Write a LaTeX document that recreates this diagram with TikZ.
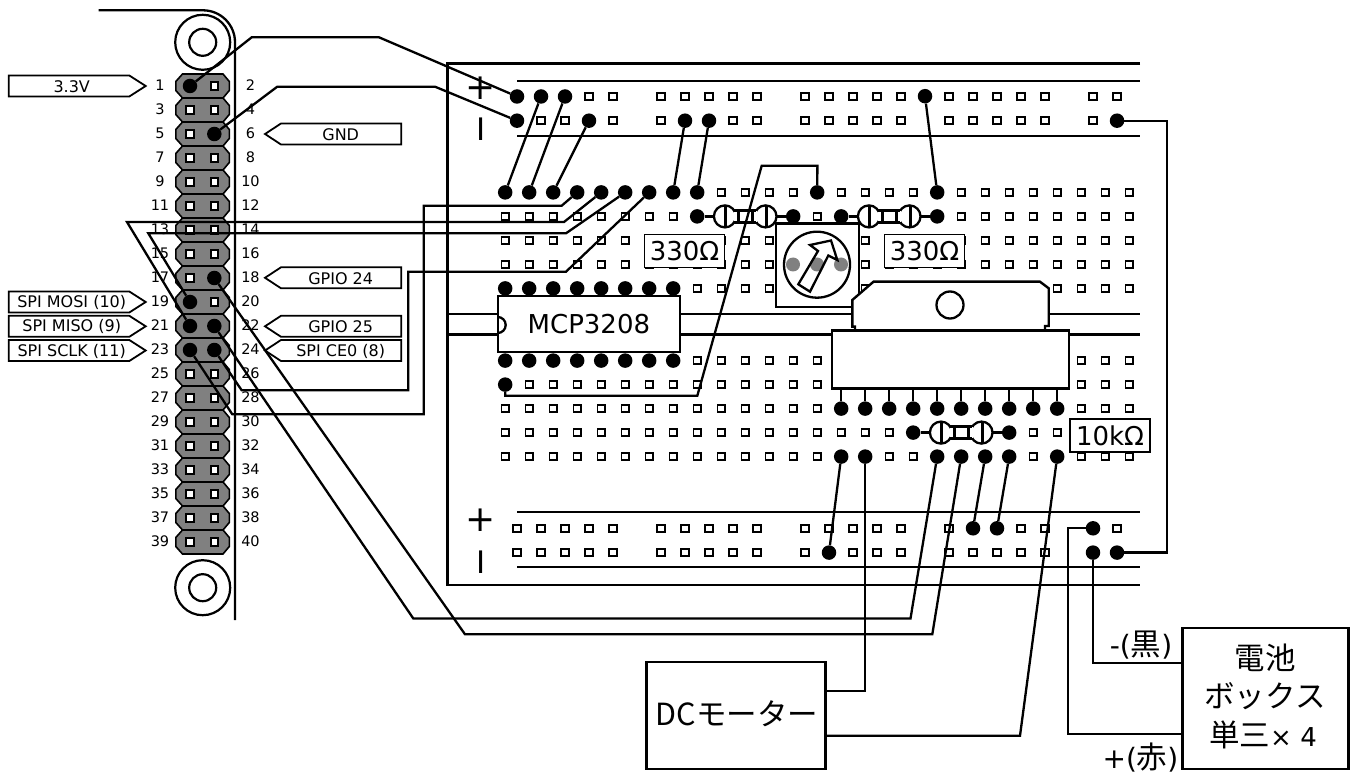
\documentclass[tikz,border=0pt]{standalone}
\usepackage{fontspec}
\setmainfont{DejaVu Sans}
\newfontfamily\jpfont{Noto Sans CJK JP}
\newcommand{\wideglyphs}[1]{{\rmfamily\fontsize{28}{30}\selectfont #1}}
\usetikzlibrary{calc}

\begin{document}
\begin{tikzpicture}[
        x=1pt, y=-1pt,
        % Define styles for consistency
        dot/.style={circle, fill=black, inner sep=0pt, minimum size=14.5pt},
        hole/.style={rectangle, draw=black, fill=white, line width=1.8pt, inner sep=0pt, minimum size=7.4pt},
        wire/.style={black, line width=2.3pt, line join=miter},
        rail/.style={black, line width=2.3pt},
        headerbody/.style={draw=black, fill=black!50, line width=1.6pt},
        chip/.style={draw=black, fill=white, line width=2.4pt},
        chipbox/.style={chip, rectangle, inner sep=0pt},
        valuebox/.style={rectangle, draw=black, fill=white, line width=1.8pt, inner sep=0pt,
            minimum width=80pt, minimum height=33pt, font=\fontsize{26}{26}\selectfont},
        tagbox/.style={draw=black, fill=white, line width=1.8pt},
        tagtext/.style={inner sep=0pt, font=\fontsize{16}{16}\selectfont},
        pinnum/.style={inner sep=0pt, font=\fontsize{14.5}{15}\selectfont},
        boxtext/.style={inner sep=0pt, font=\jpfont\fontsize{30.5}{31}\selectfont},
        resistor/.pic={
            \draw[line width=2.3pt, fill=white] (-20.3,0) circle (11pt);
            \draw[line width=2.3pt, fill=white] (20.3,0) circle (11pt);
            \fill[white] (-11.5,-5.5) rectangle (11.5,5.5);
            \draw[line width=2.3pt] (-11,-6) -- (11,-6);
            \draw[line width=2.3pt] (-11,6) -- (11,6);
            \draw[line width=3pt] (-19.5,-11) -- (-19.5,11);
            \draw[line width=3pt] (-6.5,-6) -- (-6.5,6);
            \draw[line width=3pt] (7.5,-6) -- (7.5,6);
            \draw[line width=3pt] (21.5,-11) -- (21.5,11);
        }
    ]

        \useasboundingbox (0,0) rectangle (1359,775);

        % --- Raspberry Pi edge and mounting holes ---
        \draw[rail] (98.7,10.3) -- (203,10.3) arc (90:0:32pt) -- (235,620);
        \node[circle, draw=black, line width=2.2pt, inner sep=0pt, minimum size=55pt] (hole_top) at (202.7,42.3) {};
        \node[circle, draw=black, line width=2.2pt, inner sep=0pt, minimum size=27pt] at (hole_top) {};
        \node[circle, draw=black, line width=2.2pt, inner sep=0pt, minimum size=55pt] (hole_bot) at (202.7,587.7) {};
        \node[circle, draw=black, line width=2.2pt, inner sep=0pt, minimum size=27pt] at (hole_bot) {};

        % --- GPIO header ---
        \foreach \n in {1,...,20} {
            \pgfmathtruncatemacro\oddpin{2*\n-1}
            \pgfmathtruncatemacro\evenpin{2*\n}
            \pgfmathsetmacro\rowy{86+24*(\n-1)}
            \begin{scope}[shift={(0,\rowy)}]
                \draw[headerbody] (182.5,-12) -- (223,-12) -- (229.3,-4.5) -- (229.3,4.5)
                    -- (223,12) -- (182.5,12) -- (175.8,4.5) -- (175.8,-4.5) -- cycle;
                \node[hole] (pin\oddpin) at (190,0) {};
                \node[hole] (pin\evenpin) at (214.3,0) {};
                \node[pinnum] (num\oddpin) at (160,-1) {\oddpin};
                \node[pinnum] (num\evenpin) at (250.5,-1) {\evenpin};
            \end{scope}
        }

        % --- Signal tags ---
        \foreach \tagy/\tagname in {86/3.3V, 302/SPI MOSI (10), 326.3/SPI MISO (9), 350.5/SPI SCLK (11)} {
            \begin{scope}[shift={(0,\tagy)}]
                \draw[tagbox] (8.7,-10.5) -- (129.3,-10.5) -- (145.7,0) -- (129.3,10.5) -- (8.7,10.5) -- cycle;
                \node[tagtext] at (71.7,0.5) {\tagname};
            \end{scope}
        }
        \foreach \tagy/\tagname in {134/GND, 277.8/GPIO 24, 326.3/GPIO 25, 350.5/SPI CE0 (8)} {
            \begin{scope}[shift={(0,\tagy)}]
                \draw[tagbox] (401.3,-10.5) -- (281,-10.5) -- (265,0) -- (281,10.5) -- (401.3,10.5) -- cycle;
                \node[tagtext] at (340.7,0.5) {\tagname};
            \end{scope}
        }

        % --- Breadboard outline and rails ---
        \draw[rail] (1140,63.5) -- (447.5,63.5) -- (447.5,585) -- (1140,585);
        \draw[rail] (517,80.7) -- (1140,80.7);
        \draw[rail] (517,136) -- (1140,136);
        \draw[rail] (517,512.3) -- (1140,512.3);
        \draw[rail] (517,567.3) -- (1140,567.3);
        \draw[rail] (447.5,314) -- (1140,314);
        \draw[rail] (447.5,334.5) -- (1140,334.5);

        \node[font=\fontsize{36}{36}\selectfont, inner sep=0pt] (plus_top) at (480.7,88) {+};
        \node[font=\fontsize{31}{31}\selectfont, inner sep=0pt] (minus_top) at (480.7,129.5) {I};
        \node[font=\fontsize{36}{36}\selectfont, inner sep=0pt] (plus_bot) at (480.7,520) {+};
        \node[font=\fontsize{31}{31}\selectfont, inner sep=0pt] (minus_bot) at (480.7,561.7) {I};

        % --- Breadboard holes ---
        \foreach \x in {517,541,565,589,613,661,685,709,733,757,805,829,853,877,901,949,973,997,1021,1045,1093,1117} {
            \node[hole] (ta\x) at (\x,96.5) {};
            \node[hole] (tb\x) at (\x,120.7) {};
            \node[hole] (ua\x) at (\x,528.3) {};
            \node[hole] (ub\x) at (\x,552.6) {};
        }
        \coordinate (ta925) at (925,96.2);
        \foreach \r/\rowy in {a/192.4,b/216.4,c/240.4,d/264.4,e/288.4,f/360.6,g/384.6,h/408.6,i/432.6,j/456.6} {
            \foreach \k in {0,...,26} {
                \node[hole] (\r\k) at ({505.2+24*\k},\rowy) {};
            }
        }

        % --- Connection points ---
        \foreach \n in {a0,a1,a2,a3,a4,a5,a6,a7,a8,a13,a18,b8,b12,b14,b18,
                e0,e1,e2,e3,e4,e5,e6,e7,f0,f1,f2,f3,f4,f5,f6,f7,g0,
                h14,h15,h16,h17,h18,h19,h20,h21,h22,h23,i17,i21,
                j14,j15,j18,j19,j20,j21,j23,
                ta517,ta541,ta565,ta925,tb517,tb589,tb685,tb709,tb1117,
                ua973,ua997,ua1093,ub829,ub1093,ub1117,
                pin1,pin6,pin18,pin19,pin21,pin22,pin23,pin24} {
            \node[dot] (d\n) at (\n) {};
        }

        % --- Resistors ---
        \draw[wire] (db8) -- (db12);
        \draw[wire] (db14) -- (db18);
        \draw[wire] (di17) -- (di21);
        \pic at ($(db8)!0.5!(db12)$) {resistor};
        \pic at ($(db14)!0.5!(db18)$) {resistor};
        \pic at ($(di17)!0.5!(di21)$) {resistor};
        \node[valuebox] (r330a) at (684.5,251) {330Ω};
        \node[valuebox] (r330b) at (924.5,251) {330Ω};
        \node[valuebox] (r10k) at (1110,435.5) {10kΩ};

        % --- Trimmer ---
        \node[chipbox, minimum width=83.3pt, minimum height=83.7pt] (trimmer) at (817.6,265.2) {};
        \foreach \x in {793,817,841} {
            \fill[black!50] (\x,264.5) circle (7pt);
        }
        \node[circle, draw=black, line width=2.3pt, inner sep=0pt, minimum size=66pt] (dial) at (817,264.7) {};
        \draw[black, line width=2.3pt, line join=miter] (798.3,284.3) -- (818,251) -- (810,245)
            -- (831,240.5) -- (837.3,260) -- (828.3,255.5) -- (810,291.7) -- cycle;

        % --- MCP3208 ---
        \node[chipbox, minimum width=182.3pt, minimum height=55.7pt, font=\fontsize{26}{26}\selectfont] (adc) at (588.9,323.9) {MCP3208};
        \draw[black, line width=2.3pt] (497.7,317) arc (90:-90:8pt);

        % --- Motor driver ---
        \draw[chip, line join=miter] (855,331) -- (855,326.7) -- (852.3,326.7) -- (852.3,300) -- (873.5,281.7)
            -- (1040,281.7) -- (1048.7,288.3) -- (1048.7,326) -- (1045,326) -- (1045,331) -- cycle;
        \node[circle, draw=black, line width=2.3pt, inner sep=0pt, minimum size=27pt] (tab_hole) at (950,305) {};
        \node[chipbox, minimum width=237.3pt, minimum height=57.6pt] (driver) at (950.6,359.5) {};
        \foreach \k in {14,...,23} {
            \draw[wire] (dh\k) -- (dh\k |- driver.south);
        }

        % --- Power boxes ---
        \node[chipbox, minimum width=179pt, minimum height=106.7pt] (motor) at (735.8,715.6) {};
        \node[boxtext] (motor_label) at (737,714) {DCモーター};
        \node[chipbox, minimum width=166pt, minimum height=140.7pt] (battery) at (1265.6,698.6) {};
        \node[boxtext] (cell_label) at (1265,658) {電池};
        \node[boxtext] (box_label) at (1265,696) {ボックス};
        \node[boxtext] (size_label) at (1263,735) {単三{\rmfamily\fontsize{26}{30}\selectfont × 4}};
        \node[boxtext] (black_label) at (1141,645) {\wideglyphs{-(}黒\wideglyphs{)}};
        \node[boxtext] (red_label) at (1140.5,758) {\wideglyphs{+(}赤\wideglyphs{)}};

        % --- Draw Wires ---
        % Header to power rails
        \draw[wire] (dpin1) -- (251.7,37.3) -- (379,37.3) -- (dta517);
        \draw[wire] (dpin6) -- (277.3,86.7) -- (435,86.7) -- (dtb517);

        % Rail jumpers
        \draw[wire] (da0) -- (dta541);
        \draw[wire] (da1) -- (dta565);
        \draw[wire] (da2) -- (dtb589);
        \draw[wire] (da7) -- (dtb685);
        \draw[wire] (da8) -- (dtb709);
        \draw[wire] (da18) -- (dta925);
        \draw[wire] (dj14) -- (dub829);
        \draw[wire] (dj20) -- (dua973);
        \draw[wire] (dj21) -- (dua997);

        % Header to MCP3208
        \draw[wire] (dpin23) -- (232.3,414.3) -- (423.7,414.3) -- (423.7,205.7) -- (561.7,205.7) -- (da3);
        \draw[wire] (dpin21) -- (127,222) -- (564,222) -- (da4);
        \draw[wire] (dpin19) -- (148.3,233.3) -- (566,233.3) -- (da5);
        \draw[wire] (dpin24) -- (241.7,390.3) -- (408.3,390.3) -- (408.3,271.7) -- (566,271.7) -- (da6);

        % Trimmer wiper to MCP3208
        \draw[wire] (dg0) -- (505.2,395.8) -- (697.3,395.8) -- (761.7,165.7) -- (817.4,165.7) -- (da13);

        % Header to motor driver
        \draw[wire] (dpin22) -- (413.3,618.5) -- (910.5,618.5) -- (dj18);
        \draw[wire] (dpin18) -- (465,634.3) -- (932.3,634.3) -- (dj19);

        % Motor and battery
        \draw[wire] (dj15) -- (dj15 |- 0,690.7) -- (motor.east |- 0,690.7);
        \draw[wire] (dj23) -- (1020,735.7) -- (motor.east |- 0,735.7);
        \draw[wire] (dtb1117) -- (1167.3,120.7) -- (1167.3,552.6) -- (dub1117);
        \draw[wire] (dub1093) -- (dub1093 |- 0,663.3) -- (battery.west |- 0,663.3);
        \draw[wire] (dua1093) -- (1068.3,528.3) -- (1068.3,734.3) -- (battery.west |- 0,734.3);

    \end{tikzpicture}
\end{document}
